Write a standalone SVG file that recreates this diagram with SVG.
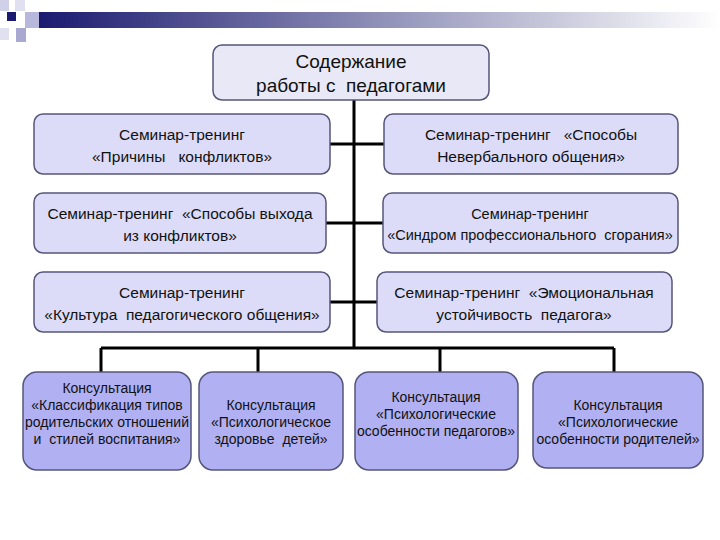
<svg xmlns="http://www.w3.org/2000/svg" width="720" height="540" viewBox="0 0 720 540">
<defs>
<linearGradient id="bar" x1="0" x2="1" y1="0" y2="0"><stop offset="0" stop-color="#1a1a70"/><stop offset="0.5" stop-color="#9090b8"/><stop offset="1" stop-color="#ffffff"/></linearGradient>
</defs>
<style>
.n{fill:#dcdcf8;stroke:#55557a;stroke-width:1.5}
.b{fill:#b0b0f2;stroke:#55557a;stroke-width:1.5}
.t{stroke:#55557a;stroke-width:1.5;fill:#e8e8f6}
text{font-family:"Liberation Sans",Arial,sans-serif;text-anchor:middle;fill:#111;white-space:pre}
.s{font-size:15.5px}
.r{font-size:19px}
.m{font-size:14.5px}
.k{font-size:14px}
.c{stroke:#000;stroke-width:3;fill:none}
</style>
<rect x="38" y="12" width="682" height="16" fill="url(#bar)"/>
<rect x="0" y="0" width="9" height="11" fill="#d0d0e8"/>
<rect x="15" y="0" width="10" height="11" fill="#e0e0f0"/>
<rect x="7" y="12" width="9" height="9" fill="#1a1a70"/>
<rect x="25" y="12" width="14" height="16" fill="#b8b8dc"/>
<rect x="0" y="28" width="9" height="12" fill="#e0e0f0"/>
<rect x="16" y="28" width="10" height="14" fill="#a8a8d0"/>
<g id="connectors">
<path class="c" d="M354 100V348M330 144H384M326 223H383M330 302H377M101 348H614M101 348V372M258 348V372M440 348V372M614 348V372"/>
</g>
<g id="root"><rect class="t" x="213" y="45" width="276" height="55" rx="9"/><text class="r" x="351" y="68">Содержание</text><text class="r" x="351" y="92">работы с  педагогами</text></g>
<g id="n1"><rect class="n" x="34" y="114" width="296" height="60" rx="9"/><text class="s" x="182" y="140">Семинар-тренинг</text><text class="s" x="182" y="162">«Причины   конфликтов»</text></g>
<g id="n2"><rect class="n" x="384" y="114" width="294" height="60" rx="9"/><text class="s" x="531" y="140">Семинар-тренинг   «Способы</text><text class="s" x="531" y="162">Невербального общения»</text></g>
<g id="n3"><rect class="n" x="34" y="193" width="292" height="60" rx="9"/><text class="s" x="180" y="219">Семинар-тренинг  «Способы выхода</text><text class="s" x="180" y="241">из конфликтов»</text></g>
<g id="n4"><rect class="n" x="383" y="193" width="295" height="60" rx="9"/><text class="m" x="530" y="219">Семинар-тренинг</text><text class="m" x="530" y="240">«Синдром профессионального  сгорания»</text></g>
<g id="n5"><rect class="n" x="34" y="272" width="296" height="60" rx="9"/><text class="s" x="182" y="298">Семинар-тренинг</text><text class="s" x="182" y="320">«Культура  педагогического общения»</text></g>
<g id="n6"><rect class="n" x="377" y="272" width="295" height="60" rx="9"/><text class="s" x="524" y="298">Семинар-тренинг  «Эмоциональная</text><text class="s" x="524" y="320">устойчивость  педагога»</text></g>
<g id="b1"><rect class="b" x="23" y="372" width="168" height="98" rx="14"/><text class="k" x="107" y="393">Консультация</text><text class="k" x="107" y="410">«Классификация типов</text><text class="k" x="107" y="427">родительских отношений</text><text class="k" x="107" y="444">и  стилей воспитания»</text></g>
<g id="b2"><rect class="b" x="199" y="372" width="144" height="98" rx="14"/><text class="k" x="271" y="410">Консультация</text><text class="k" x="271" y="427">«Психологическое</text><text class="k" x="271" y="444">здоровье  детей»</text></g>
<g id="b3"><rect class="b" x="355" y="372" width="163" height="98" rx="14"/><text class="k" x="436" y="402">Консультация</text><text class="k" x="436" y="419">«Психологические</text><text class="k" x="436" y="436">особенности педагогов»</text></g>
<g id="b4"><rect class="b" x="533" y="372" width="170" height="96" rx="14"/><text class="k" x="618" y="410">Консультация</text><text class="k" x="618" y="427">«Психологические</text><text class="k" x="618" y="444">особенности родителей»</text></g>
</svg>
